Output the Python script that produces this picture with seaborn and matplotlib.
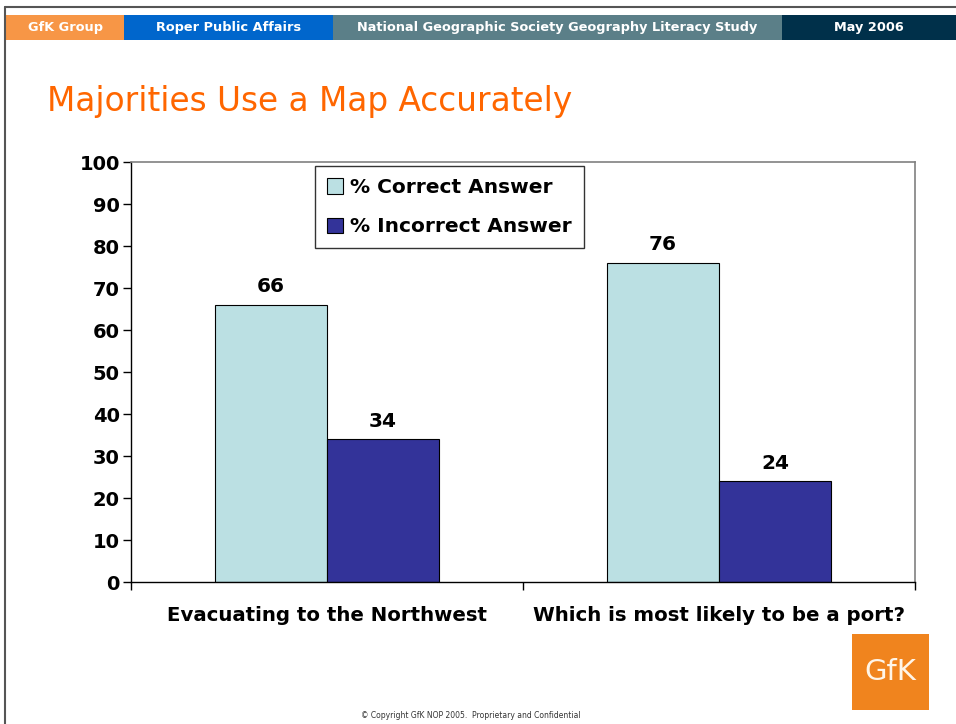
import matplotlib
matplotlib.use("Agg")
import matplotlib.pyplot as plt
import seaborn as sns
import pandas as pd
from matplotlib.patches import Rectangle
from matplotlib.lines import Line2D

# data
categories = ["Evacuating to the Northwest", "Which is most likely to be a port?"]
series = ["% Correct Answer", "% Incorrect Answer"]
correct = [66, 76]
incorrect = [34, 24]
y_ticks = [0, 10, 20, 30, 40, 50, 60, 70, 80, 90, 100]

header_labels = ["GfK Group", "Roper Public Affairs",
                 "National Geographic Society Geography Literacy Study", "May 2006"]

df = pd.DataFrame({
    "question": categories * 2,
    "answer": [series[0]] * len(categories) + [series[1]] * len(categories),
    "pct": correct + incorrect,
})

sns.set_theme(style="white")
plt.rcParams['font.family'] = ['DejaVu Sans']
plt.rcParams['text.color'] = 'black'
plt.rcParams['xtick.color'] = 'black'
plt.rcParams['ytick.color'] = 'black'

W, H = 956, 724
fig = plt.figure(figsize=(W / 100, H / 100), dpi=100)
fig.patch.set_facecolor("white")


def fx(px):
    return px / W


def fy(py):
    return 1 - py / H


# slide frame
fig.add_artist(Line2D([fx(5), fx(5)], [fy(7), 0], color="#555555", lw=1.5))
fig.add_artist(Line2D([fx(5), 1], [fy(7), fy(7)], color="#555555", lw=1.5))

# header strip
header_spans = [(6, 124), (124, 333), (333, 782), (782, 956)]
header_colors = ["#F79646", "#0066CC", "#5B7F88", "#00304A"]
for (x0, x1), col, lab in zip(header_spans, header_colors, header_labels):
    fig.add_artist(Rectangle((fx(x0), fy(40)), fx(x1 - x0), 25 / H,
                             color=col, transform=fig.transFigure, lw=0))
    fig.text(fx((x0 + x1) / 2), fy(28), lab, color="white", fontsize=9.3,
             fontweight="bold", ha="center", va="center")

# title
fig.text(fx(47), fy(101), "Majorities Use a Map Accurately", color="#FF6600",
         fontsize=23.6, ha="left", va="center")

ax = fig.add_axes([fx(131), fy(582), fx(915 - 131), (582 - 162) / H])
sns.barplot(data=df, x="question", y="pct", hue="answer",
            palette=["#BBE0E3", "#333399"], width=0.571,
            edgecolor="black", linewidth=0.8, ax=ax, saturation=1)

ax.set_xlim(-0.5, 1.5)
ax.set_ylim(0, 100)
ax.set_yticks(y_ticks)
ax.set_yticklabels([str(t) for t in y_ticks], fontsize=14, fontweight="bold")
ax.set_xticks([-0.5, 0.5, 1.5])
ax.set_xticklabels([])
ax.tick_params(axis="y", direction="out", length=6, width=1, color="black",
               left=True, pad=2)
ax.tick_params(axis="x", direction="out", length=6, width=1, color="black",
               bottom=True)
ax.set_xlabel("")
ax.set_ylabel("")
for i, lab in enumerate(categories):
    ax.text(i, -8, lab, ha="center", va="center", fontsize=14.2,
            fontweight="bold", color="black")

for s in ["top", "right"]:
    ax.spines[s].set_color("#808080")
    ax.spines[s].set_linewidth(1.2)
for s in ["left", "bottom"]:
    ax.spines[s].set_color("black")
    ax.spines[s].set_linewidth(1)

for cont in ax.containers:
    ax.bar_label(cont, fmt="%d", padding=6, fontsize=14.5, fontweight="bold",
                 color="black")

leg = ax.legend(loc="upper left", bbox_to_anchor=((315 - 131) / 784, 1 - 4 / 420),
                frameon=True, fancybox=False, edgecolor="black",
                prop={"size": 14.5, "weight": "bold"},
                handlelength=0.8, handleheight=0.8, handletextpad=0.35,
                labelspacing=1.0, borderpad=0.6, borderaxespad=0)
leg.get_frame().set_linewidth(1)
for t in leg.get_texts():
    t.set_color("black")

# logo
fig.add_artist(Rectangle((fx(852), fy(710)), fx(77), 76 / H, color="#F0841E",
                         transform=fig.transFigure, lw=0))
fig.text(fx(890), fy(672), "GfK", color="#FFF5E8", fontsize=21,
         ha="center", va="center")

fig.text(fx(471), fy(715), "\u00a9 Copyright GfK NOP 2005.  Proprietary and Confidential",
         color="#333333", fontsize=5.5, ha="center", va="center")

fig.savefig("out.png", dpi=100)
